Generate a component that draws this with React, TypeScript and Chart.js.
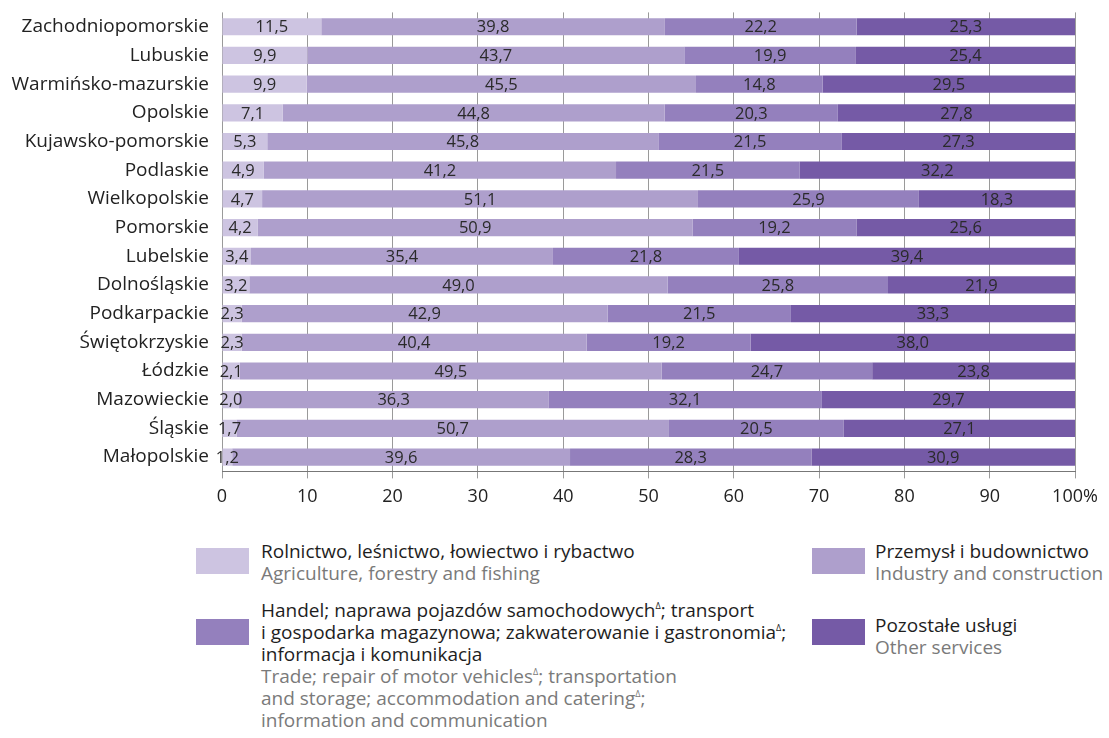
import React, { useEffect, useRef } from "react";
import { Chart, registerables } from "chart.js";

Chart.register(...registerables);

const regions = [
  "Zachodniopomorskie",
  "Lubuskie",
  "Warmińsko-mazurskie",
  "Opolskie",
  "Kujawsko-pomorskie",
  "Podlaskie",
  "Wielkopolskie",
  "Pomorskie",
  "Lubelskie",
  "Dolnośląskie",
  "Podkarpackie",
  "Świętokrzyskie",
  "Łódzkie",
  "Mazowieckie",
  "Śląskie",
  "Małopolskie",
];

const agriculture = [11.5, 9.9, 9.9, 7.1, 5.3, 4.9, 4.7, 4.2, 3.4, 3.2, 2.3, 2.3, 2.1, 2.0, 1.7, 1.2];
const industry = [39.8, 43.7, 45.5, 44.8, 45.8, 41.2, 51.1, 50.9, 35.4, 49.0, 42.9, 40.4, 49.5, 36.3, 50.7, 39.6];
const trade = [22.2, 19.9, 14.8, 20.3, 21.5, 21.5, 25.9, 19.2, 21.8, 25.8, 21.5, 19.2, 24.7, 32.1, 20.5, 28.3];
const otherServices = [25.3, 25.4, 29.5, 27.8, 27.3, 32.2, 18.3, 25.6, 39.4, 21.9, 33.3, 38.0, 23.8, 29.7, 27.1, 30.9];

const xTicks = [0, 10, 20, 30, 40, 50, 60, 70, 80, 90, 100];

const seriesNames = [
  "Rolnictwo, leśnictwo, łowiectwo i rybactwo",
  "Przemysł i budownictwo",
  "Handel; naprawa pojazdów samochodowych; transport i gospodarka magazynowa; zakwaterowanie i gastronomia; informacja i komunikacja",
  "Pozostałe usługi",
];
const colors = ["#cdc4e1", "#ae9fcc", "#9480bd", "#755aa6"];

const FONT = "'Open Sans', 'Noto Sans', sans-serif";

const labelPlugin = {
  id: "segLabels",
  afterDatasetsDraw(chart: any) {
    const ctx = chart.ctx;
    ctx.save();
    ctx.font = `16.5px ${FONT}`;
    ctx.fillStyle = "#2a2a2a";
    ctx.textAlign = "center";
    ctx.textBaseline = "middle";
    chart.data.datasets.forEach((ds: any, di: number) => {
      const meta = chart.getDatasetMeta(di);
      meta.data.forEach((bar: any, i: number) => {
        const v = ds.raw[i];
        const cx = (bar.x + bar.base) / 2;
        const txt = v.toFixed(1).replace(".", ",");
        ctx.fillText(txt, cx, bar.y + 1);
      });
    });
    ctx.restore();
  },
};

function Sup() {
  return <sup style={{ fontSize: "9px", verticalAlign: "8px", lineHeight: 0 }}>Δ</sup>;
}

export default function App() {
  const ref = useRef<HTMLCanvasElement>(null);
  useEffect(() => {
    document.body.style.margin = "0";
    const values = [agriculture, industry, trade, otherServices];
    const totals = regions.map((_, i) => values.reduce((s, arr) => s + arr[i], 0));
    const chart = new Chart(ref.current!, {
      type: "bar",
      data: {
        labels: regions,
        datasets: values.map((d, i) => ({
          label: seriesNames[i],
          data: d.map((v, j) => (v / totals[j]) * 100),
          raw: d,
          backgroundColor: colors[i],
          borderWidth: 0,
          categoryPercentage: 0.6,
          barPercentage: 1,
        })) as any,
      },
      options: {
        indexAxis: "y",
        responsive: false,
        animation: false,
        maintainAspectRatio: false,
        layout: { padding: { left: 0, right: 34, top: 0, bottom: 0 } },
        plugins: { legend: { display: false }, tooltip: { enabled: false } },
        scales: {
          x: {
            stacked: true,
            min: 0,
            max: 100,
            afterBuildTicks: (axis: any) => {
              axis.ticks = xTicks.map((v) => ({ value: v }));
            },
            ticks: {
              autoSkip: false,
              maxRotation: 0,
              color: "#222",
              font: { family: FONT, size: 18 },
              padding: 8,
              callback: (v: any) => (v === 100 ? "100%" : String(v)),
            },
            grid: {
              color: "#9a9a9a",
              lineWidth: 1,
              drawTicks: true,
              tickLength: 7,
            },
            border: { display: true, color: "#777", width: 1 },
          },
          y: {
            stacked: true,
            ticks: {
              color: "#222",
              font: { family: FONT, size: 19 },
              padding: 13,
            },
            grid: { display: false, drawTicks: false },
            border: { display: false },
            afterFit: (axis: any) => {
              axis.width = 222;
            },
          },
        },
      },
      plugins: [labelPlugin],
    });
    return () => chart.destroy();
  }, []);

  const dark: React.CSSProperties = { color: "#1e1e1e" };
  const grey: React.CSSProperties = { color: "#7a7a7a" };
  const box = (c: string, left: number, top: number): React.CSSProperties => ({
    position: "absolute",
    left,
    top,
    width: 53,
    height: 26,
    background: c,
  });
  const text = (left: number, top: number): React.CSSProperties => ({
    position: "absolute",
    left,
    top,
    fontFamily: FONT,
    fontSize: 19,
    lineHeight: "22px",
    whiteSpace: "nowrap",
  });

  return (
    <div style={{ position: "relative", width: 1109, height: 738, background: "#fff", overflow: "hidden" }}>
      <canvas ref={ref} width={1109} height={528} style={{ position: "absolute", left: 0, top: -12 }} />
      <div style={box(colors[0], 196, 548)} />
      <div style={text(261, 540)}>
        <div style={dark}>Rolnictwo, leśnictwo, łowiectwo i rybactwo</div>
        <div style={grey}>Agriculture, forestry and fishing</div>
      </div>
      <div style={box(colors[2], 196, 619)} />
      <div style={text(261, 599)}>
        <div style={dark}>
          Handel; naprawa pojazdów samochodowych<Sup />; transport
        </div>
        <div style={dark}>
          i gospodarka magazynowa; zakwaterowanie i gastronomia<Sup />;
        </div>
        <div style={dark}>informacja i komunikacja</div>
        <div style={grey}>
          Trade; repair of motor vehicles<Sup />; transportation
        </div>
        <div style={grey}>
          and storage; accommodation and catering<Sup />;
        </div>
        <div style={grey}>information and communication</div>
      </div>
      <div style={box(colors[1], 812, 548)} />
      <div style={text(875, 540)}>
        <div style={dark}>Przemysł i budownictwo</div>
        <div style={grey}>Industry and construction</div>
      </div>
      <div style={box(colors[3], 812, 619)} />
      <div style={text(875, 614)}>
        <div style={dark}>Pozostałe usługi</div>
        <div style={grey}>Other services</div>
      </div>
    </div>
  );
}
